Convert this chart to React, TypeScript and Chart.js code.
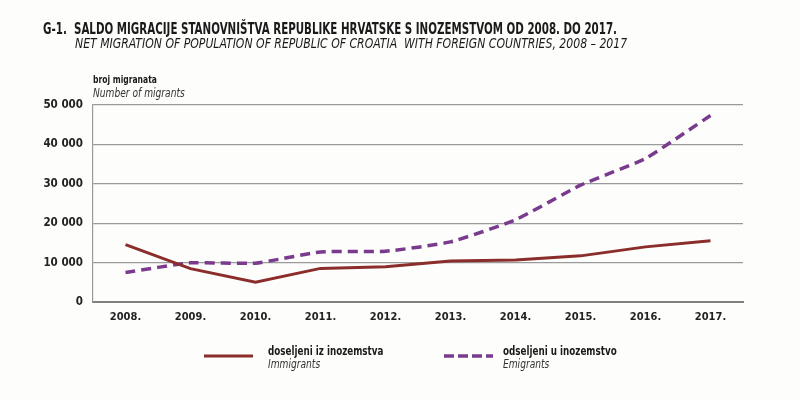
import React, { useEffect, useRef } from "react";
import { Chart, registerables } from "chart.js";

Chart.register(...registerables);

const years = ["2008.", "2009.", "2010.", "2011.", "2012.", "2013.", "2014.", "2015.", "2016.", "2017."];
const immigrants = [14540, 8470, 4990, 8530, 8960, 10380, 10640, 11710, 13990, 15550];
const emigrants = [7490, 9940, 9860, 12700, 12880, 15260, 20860, 29650, 36440, 47350];
const yTicks = [0, 10000, 20000, 30000, 40000, 50000];

const FONT = '"DejaVu Sans Condensed", "Liberation Sans Narrow", "Arial Narrow", sans-serif';
const RED = "#8a2d2b";
const PURPLE = "#7a3b8f";

export default function App() {
  const ref = useRef<HTMLCanvasElement | null>(null);
  useEffect(() => {
    if (!ref.current) return;
    const chart = new Chart(ref.current, {
      type: "line",
      data: {
        labels: years,
        datasets: [
          {
            label: "doseljeni iz inozemstva",
            data: immigrants,
            borderColor: RED,
            borderWidth: 3,
            pointRadius: 0,
            tension: 0,
          },
          {
            label: "odseljeni u inozemstvo",
            data: emigrants,
            borderColor: PURPLE,
            borderWidth: 3.5,
            borderDash: [10, 6],
            pointRadius: 0,
            tension: 0.15,
          },
        ],
      },
      options: {
        animation: false,
        responsive: false,
        layout: { padding: { left: 0, right: 57, top: 105, bottom: 0 } },
        plugins: { legend: { display: false }, tooltip: { enabled: false } },
        scales: {
          x: {
            offset: true,
            afterFit: (s: any) => { s.height = 98; },
            grid: { display: false, drawTicks: false },
            border: { display: true, color: "#808080", width: 2 },
            ticks: { color: "#222", padding: 9, font: { family: FONT, size: 11, weight: "bold" } },
          },
          y: {
            min: 0,
            max: 50000,
            afterFit: (s: any) => { s.width = 93; },
            afterBuildTicks: (s: any) => { s.ticks = yTicks.map((v) => ({ value: v })); },
            grid: { color: "#9a9a9a", lineWidth: 1.2, drawTicks: false },
            border: { display: true, color: "#9a9a9a", width: 1.2 },
            ticks: {
              color: "#222",
              padding: 10,
              font: { family: FONT, size: 11.5, weight: "bold" },
              callback: (v: any) => String(v).replace(/\B(?=(\d{3})+(?!\d))/g, " "),
            },
          },
        },
      },
    });
    return () => chart.destroy();
  }, []);

  const txt = (left: number, top: number, size: number, sx: number, bold: boolean, extra: React.CSSProperties = {}): React.CSSProperties => ({
    position: "absolute",
    left,
    top,
    fontFamily: FONT,
    fontSize: size,
    fontWeight: bold ? "bold" : "normal",
    fontStyle: bold ? "normal" : "italic",
    color: bold ? "#1a1a1a" : "#333",
    whiteSpace: "nowrap",
    lineHeight: 1,
    transform: `scaleX(${sx})`,
    transformOrigin: "0 0",
    ...extra,
  });

  return (
    <div style={{ position: "fixed", left: 0, top: 0, width: 800, height: 400, background: "#fdfdfb" }}>
      <canvas ref={ref} width={800} height={400} style={{ position: "absolute", left: 0, top: 0 }} />
      <div style={txt(43, 22.3, 15, 0.763, true)}>
        G-1.&nbsp; SALDO MIGRACIJE STANOVNIŠTVA REPUBLIKE HRVATSKE S INOZEMSTVOM OD 2008. DO 2017.
      </div>
      <div style={txt(75, 36, 14, 0.865, false, { color: "#1a1a1a" })}>
        NET MIGRATION OF POPULATION OF REPUBLIC OF CROATIA&nbsp; WITH FOREIGN COUNTRIES, 2008 – 2017
      </div>
      <div style={txt(93, 73.7, 11, 0.77, true)}>broj migranata</div>
      <div style={txt(93, 88.3, 11.5, 0.88, false)}>Number of migrants</div>

      <svg width={800} height={400} style={{ position: "absolute", left: 0, top: 0, pointerEvents: "none" }}>
        <line x1={204} y1={356} x2={253} y2={356} stroke={RED} strokeWidth={3} />
        <line x1={444} y1={356} x2={493} y2={356} stroke={PURPLE} strokeWidth={3.5} strokeDasharray="10 4" />
      </svg>
      <div style={txt(268, 345.4, 12.5, 0.78, true)}>doseljeni iz inozemstva</div>
      <div style={txt(268, 359.3, 11.5, 0.88, false)}>Immigrants</div>
      <div style={txt(503, 345.4, 12.5, 0.78, true)}>odseljeni u inozemstvo</div>
      <div style={txt(503, 359.3, 11.5, 0.88, false)}>Emigrants</div>
    </div>
  );
}
